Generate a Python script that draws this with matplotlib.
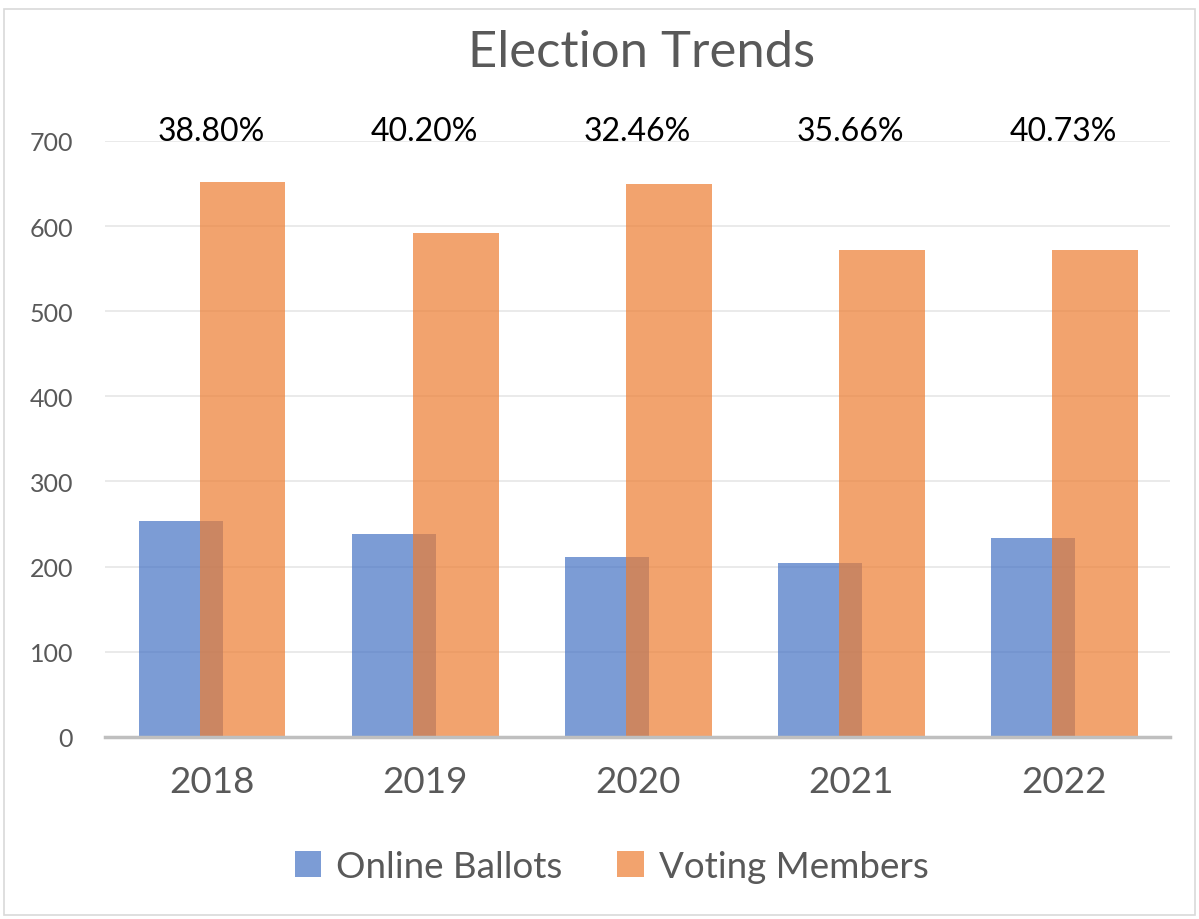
import matplotlib
matplotlib.use("Agg")
import matplotlib.pyplot as plt
import numpy as np
from matplotlib.patches import Rectangle

years = ['2018', '2019', '2020', '2021', '2022']
online_ballots = [253, 238, 211, 204, 233]
voting_members = [652, 592, 650, 572, 572]

plt.rcParams['font.family'] = ['Lato', 'DejaVu Sans']

fig = plt.figure(figsize=(11.99, 9.2), dpi=100)
ax = fig.add_axes([0.0876, 0.198, 0.8884, 0.6477])

x = np.arange(len(years))
ax.bar(x - 0.145, online_ballots, width=0.395, color='#4472C4', alpha=0.7,
       label='Online Ballots', zorder=2)
ax.bar(x + 0.147, voting_members, width=0.4, color='#ED7D31', alpha=0.7,
       label='Voting Members', zorder=3)

# ratio labels above each group
for i in range(len(years)):
    pct = online_ballots[i] / voting_members[i] * 100
    ax.text(x[i], 701, f'{pct:.2f}%', ha='center', va='baseline', fontsize=23,
            color='black', clip_on=False)

ax.set_xlim(-0.5, len(years) - 0.5)
ax.set_ylim(0, 700)
ax.set_yticks(range(0, 701, 100))
ax.set_xticks(x)
ax.set_xticklabels(years)
ax.tick_params(axis='x', length=0, labelsize=26.5, colors='#595959', pad=20)
ax.tick_params(axis='y', length=0, labelsize=18, colors='#595959', pad=23)
ax.grid(axis='y', color='#E6E6E6', linewidth=1.2, zorder=0)
ax.set_axisbelow(True)
for s in ['top', 'right', 'left']:
    ax.spines[s].set_visible(False)
ax.spines['bottom'].set_color('#BFBFBF')
ax.spines['bottom'].set_linewidth(2.5)
ax.spines['bottom'].set_zorder(5)

fig.text(0.535, 0.942, 'Election Trends', ha='center', va='center',
         fontsize=36.5, color='#595959')

fig.legend(loc='center', bbox_to_anchor=(0.51, 0.0576), ncol=2, frameon=False,
           fontsize=26.5, labelcolor='#595959', handlelength=0.72, handleheight=0.72,
           columnspacing=1.5, handletextpad=0.4)

fig.patches.append(Rectangle((0.003, 0.004), 0.994, 0.985, transform=fig.transFigure,
                             fill=False, edgecolor='#D9D9D9', linewidth=1.2))

plt.savefig('out.png', dpi=100)
